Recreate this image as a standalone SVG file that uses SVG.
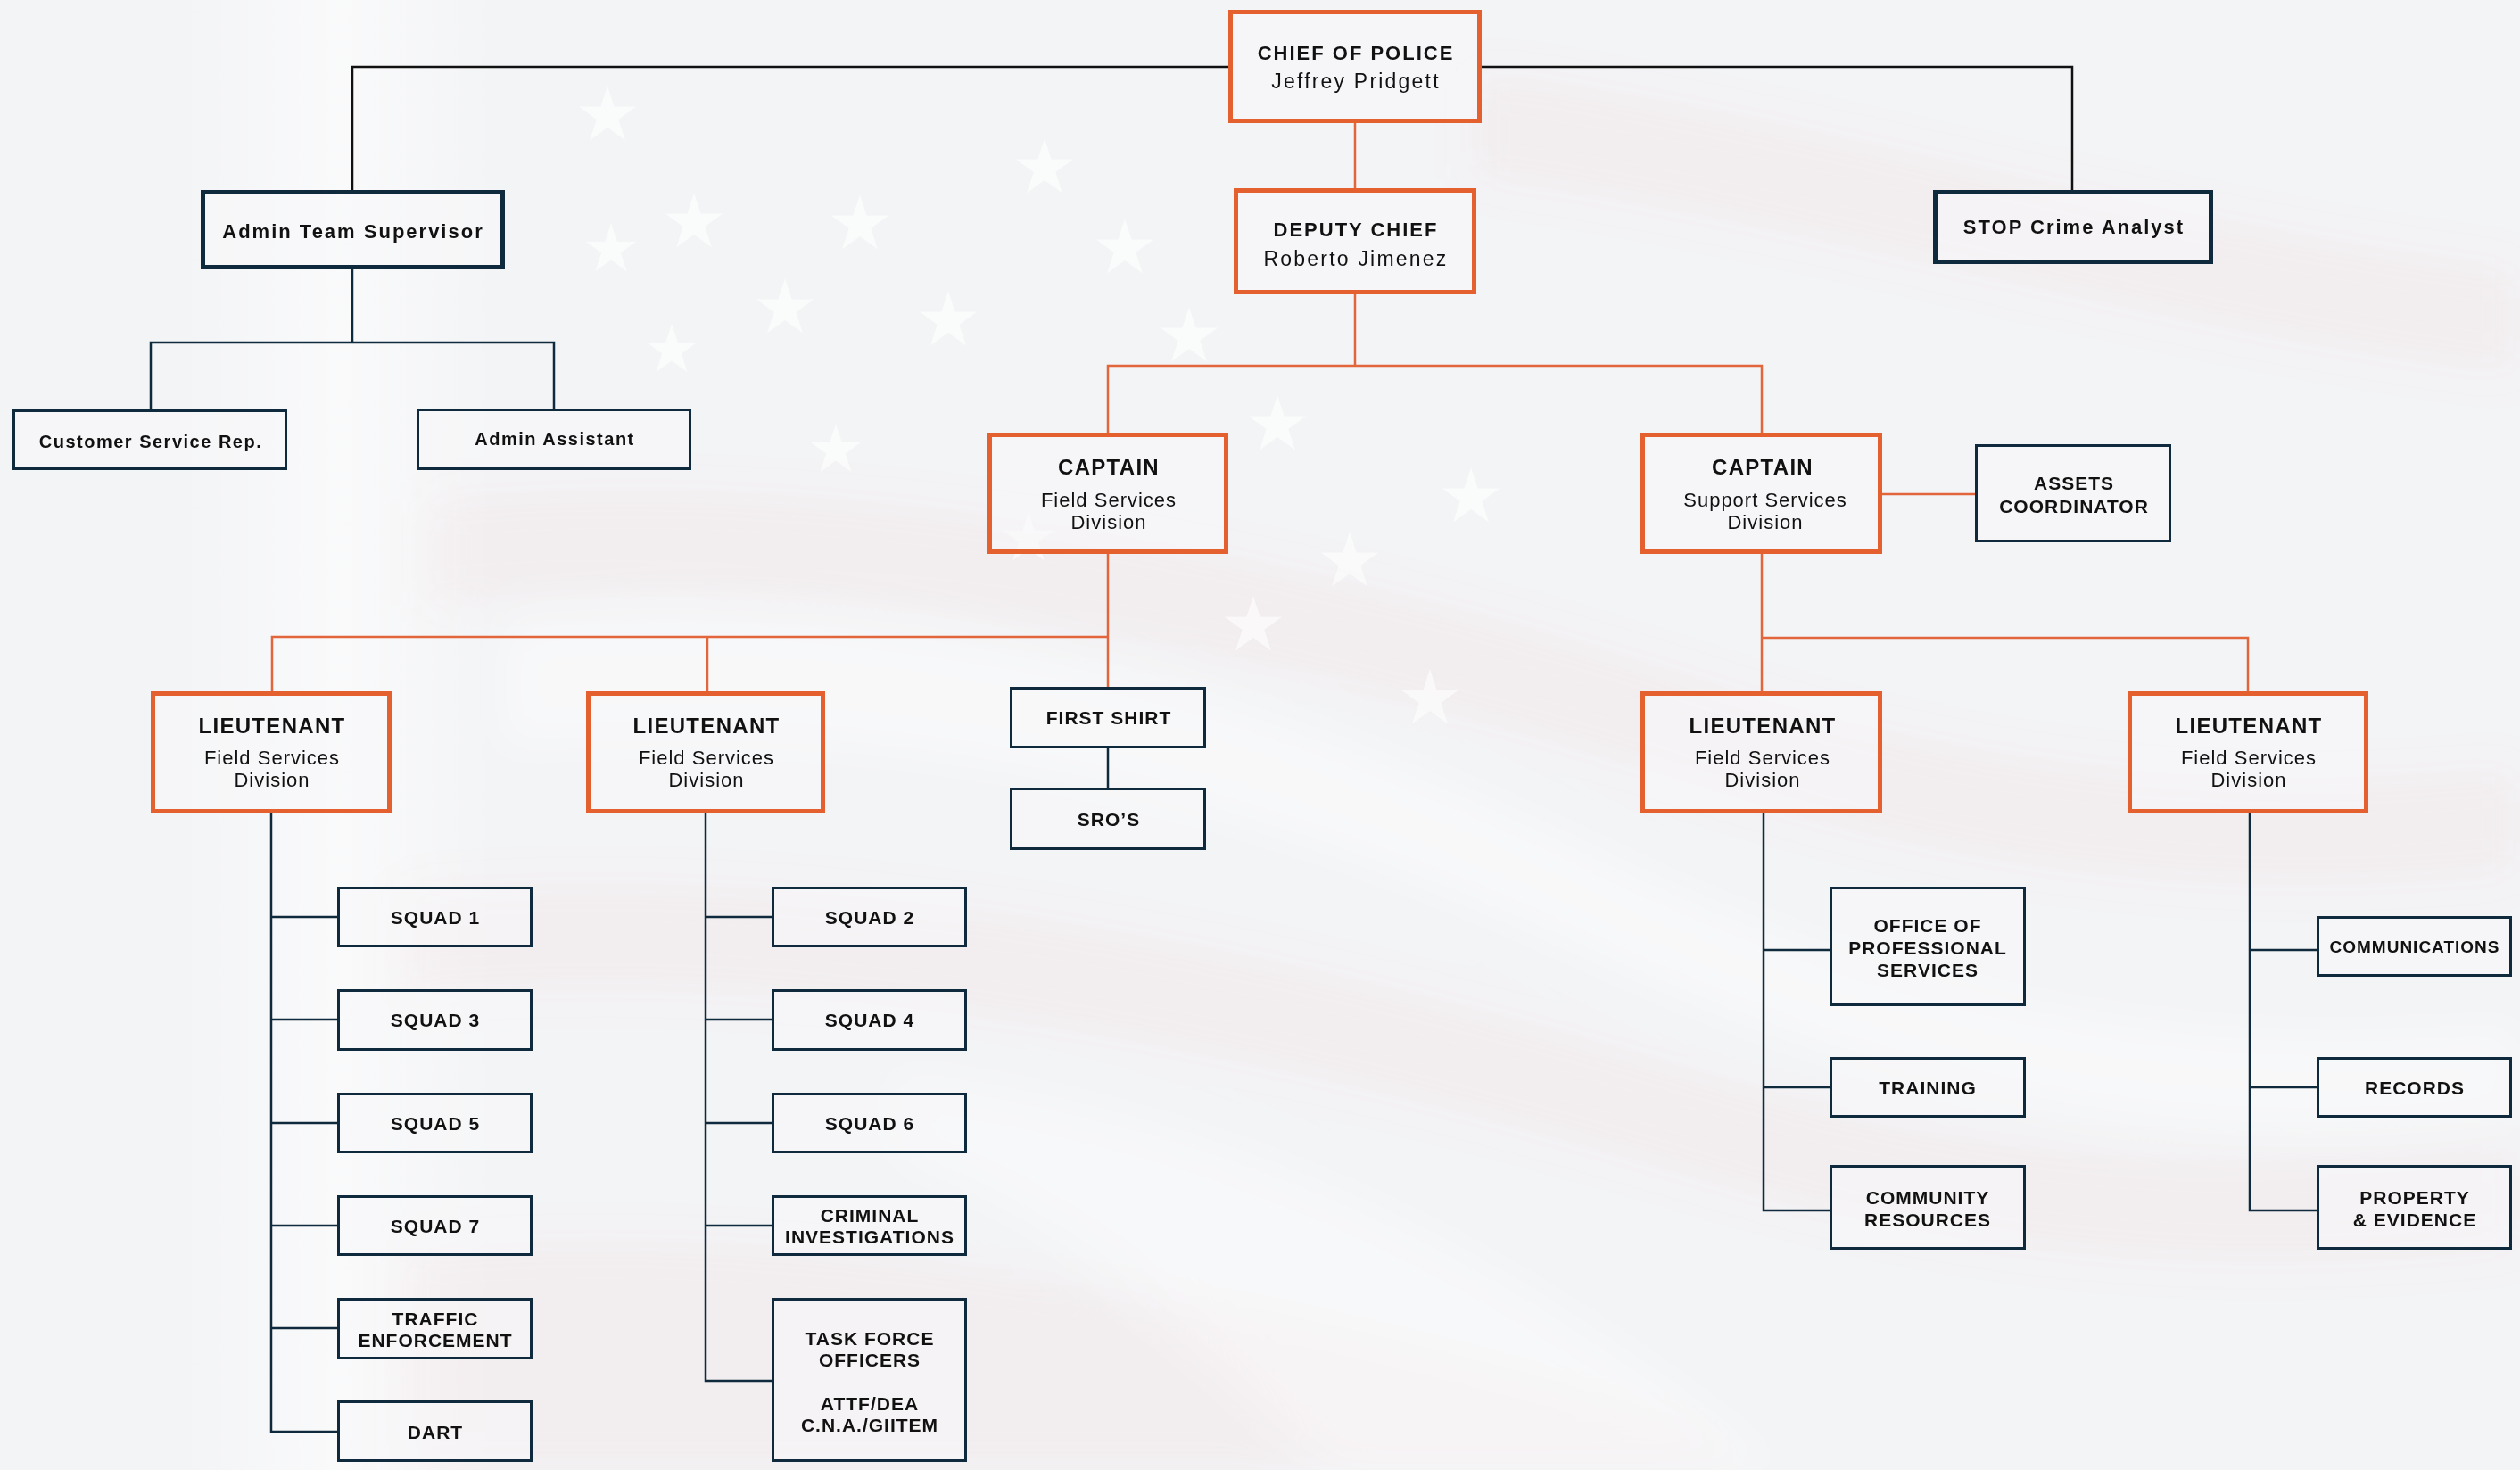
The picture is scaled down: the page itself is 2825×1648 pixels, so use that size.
<svg xmlns="http://www.w3.org/2000/svg" xmlns:xlink="http://www.w3.org/1999/xlink" width="2825" height="1648" viewBox="0 0 2825 1648">
<defs>
<style>
.ob{fill:rgba(248,248,249,0.55);stroke:#e4602e;stroke-width:5}
.nb{fill:rgba(248,248,249,0.55);stroke:#0f2a3c;stroke-width:5}
.nt{fill:rgba(248,248,249,0.55);stroke:#0f2a3c;stroke-width:3}
.oc{fill:none;stroke:#e2653b;stroke-width:2.5}
.nc{fill:none;stroke:#0f2a3c;stroke-width:2.5}
.kc{fill:none;stroke:#111111;stroke-width:2.5}
text{font-family:"Liberation Sans",Arial,sans-serif;fill:#111111;text-anchor:middle}
.h1{font-weight:700;font-size:22px;letter-spacing:2px}
.h1n{font-weight:400;font-size:23px;letter-spacing:2.2px}
.t{font-weight:700;font-size:24px;letter-spacing:1.3px}
.s{font-weight:400;font-size:22px;letter-spacing:1px}
.b{font-weight:700;font-size:21px;letter-spacing:1px}
.bs{font-weight:700;font-size:19px;letter-spacing:1px}
.a{font-weight:700;font-size:20px;letter-spacing:1.5px}
.star{fill:#ffffff;opacity:0.6}
.band{fill:#e99090;opacity:0.06}
</style>
<filter id="soft" x="-10%" y="-20%" width="120%" height="140%"><feGaussianBlur stdDeviation="25"/></filter>
<path id="st" d="M0,-1 L0.2245,-0.309 L0.951,-0.309 L0.363,0.118 L0.588,0.809 L0,0.382 L-0.588,0.809 L-0.363,0.118 L-0.951,-0.309 L-0.2245,-0.309 Z"/>
<linearGradient id="pole" x1="0" y1="0" x2="1" y2="0">
<stop offset="0" stop-color="#ffffff" stop-opacity="0"/>
<stop offset="0.5" stop-color="#ffffff" stop-opacity="0.55"/>
<stop offset="1" stop-color="#ffffff" stop-opacity="0"/>
</linearGradient>
</defs>

<g id="background">
<rect x="0" y="0" width="2825" height="1648" fill="#f3f4f6"/>
<rect x="200" y="0" width="360" height="1648" fill="url(#pole)"/>
<g filter="url(#soft)">
<path class="band" d="M1650,80 C2000,120 2400,250 2825,300 L2825,420 C2400,370 2000,240 1650,200 Z"/>
<path class="band" d="M480,560 C900,520 1400,600 1900,760 C2300,890 2600,880 2825,860 L2825,980 C2600,1000 2300,1010 1900,880 C1400,720 900,640 480,680 Z"/>
<path class="band" d="M450,1000 C900,960 1400,1050 1900,1200 C2300,1320 2600,1300 2825,1280 L2825,1400 C2600,1420 2300,1440 1900,1320 C1400,1170 900,1080 450,1120 Z"/>
<path class="band" d="M450,1400 C900,1360 1400,1450 1900,1600 L1950,1648 L450,1648 Z"/>
<path fill="#ffffff" opacity="0.4" d="M560,700 C1000,660 1400,760 1800,960 C2200,1150 2500,1180 2825,1150 L2825,1250 C2500,1290 2200,1260 1800,1080 C1400,890 1000,800 560,840 Z"/>
<path fill="#ffffff" opacity="0.35" d="M1000,1200 C1400,1250 1700,1400 2000,1648 L1500,1648 C1300,1450 1150,1350 1000,1300 Z"/>
</g>
<use href="#st" class="star" transform="translate(681,130) scale(34)"/>
<use href="#st" class="star" transform="translate(778,250) scale(34)"/>
<use href="#st" class="star" transform="translate(880,346) scale(34)"/>
<use href="#st" class="star" transform="translate(685,280) scale(30)"/>
<use href="#st" class="star" transform="translate(753,393) scale(30)"/>
<use href="#st" class="star" transform="translate(964,252) scale(34)"/>
<use href="#st" class="star" transform="translate(1063,360) scale(34)"/>
<use href="#st" class="star" transform="translate(1171,189) scale(34)"/>
<use href="#st" class="star" transform="translate(1261,279) scale(34)"/>
<use href="#st" class="star" transform="translate(1333,378) scale(34)"/>
<use href="#st" class="star" transform="translate(1432,477) scale(34)"/>
<use href="#st" class="star" transform="translate(1513,630) scale(34)"/>
<use href="#st" class="star" transform="translate(1405,702) scale(34)"/>
<use href="#st" class="star" transform="translate(1649,558) scale(34)"/>
<use href="#st" class="star" transform="translate(1603,784) scale(34)"/>
<use href="#st" class="star" transform="translate(1153,604) scale(30)"/>
<use href="#st" class="star" transform="translate(937,505) scale(30)"/>
</g>

<g id="connectors">
<path class="kc" d="M395,213 V75 H1378"/>
<path class="kc" d="M1660,75 H2323 V213"/>
<path class="nc" d="M395,302 V384"/>
<path class="nc" d="M169,459 V384 H621 V458"/>
<path class="oc" d="M1519,138 V211"/>
<path class="oc" d="M1519,330 V410"/>
<path class="oc" d="M1242,485 V410 H1975 V485"/>
<path class="oc" d="M1242,621 V770"/>
<path class="oc" d="M305,775 V714 H1242"/>
<path class="oc" d="M793,714 V775"/>
<path class="oc" d="M1975,621 V775"/>
<path class="oc" d="M1975,715 H2520 V775"/>
<path class="oc" d="M2110,554 H2214"/>
<path class="nc" d="M1242,839 V883"/>
<path class="nc" d="M304,912 V1605 H378 M304,1028 H378 M304,1143 H378 M304,1259 H378 M304,1374 H378 M304,1489 H378"/>
<path class="nc" d="M791,912 V1548 H865 M791,1028 H865 M791,1143 H865 M791,1259 H865 M791,1374 H865"/>
<path class="nc" d="M1977,910 V1357 H2051 M1977,1065 H2051 M1977,1219 H2051"/>
<path class="nc" d="M2522,910 V1357 H2597 M2522,1065 H2597 M2522,1219 H2597"/>
</g>

<g id="chief"><rect class="ob" x="1379.5" y="13.5" width="279" height="122"/>
<text class="h1" x="1520" y="67">CHIEF OF POLICE</text><text class="h1n" x="1520" y="99">Jeffrey Pridgett</text></g>
<g id="deputy"><rect class="ob" x="1385.5" y="213.5" width="267" height="114"/>
<text class="h1" x="1520" y="265">DEPUTY CHIEF</text><text class="h1n" x="1520" y="298">Roberto Jimenez</text></g>
<g id="admin-supervisor"><rect class="nb" x="227.5" y="215.5" width="336" height="84"/>
<text class="h1" x="396" y="267">Admin Team Supervisor</text></g>
<g id="stop-analyst"><rect class="nb" x="2169.5" y="215.5" width="309" height="78"/>
<text class="h1" x="2325" y="262">STOP Crime Analyst</text></g>
<g id="customer-service"><rect class="nt" x="15.5" y="460.5" width="305" height="65"/>
<text class="a" x="169" y="502">Customer Service Rep.</text></g>
<g id="admin-assistant"><rect class="nt" x="468.5" y="459.5" width="305" height="66"/>
<text class="a" x="622" y="499">Admin Assistant</text></g>

<g id="captain-field"><rect class="ob" x="1109.5" y="487.5" width="265" height="131"/>
<text class="t" x="1243" y="532">CAPTAIN</text><text class="s" x="1243" y="568">Field Services</text><text class="s" x="1243" y="593">Division</text></g>
<g id="captain-support"><rect class="ob" x="1841.5" y="487.5" width="266" height="131"/>
<text class="t" x="1976" y="532">CAPTAIN</text><text class="s" x="1979" y="568">Support Services</text><text class="s" x="1979" y="593">Division</text></g>
<g id="assets"><rect class="nt" x="2215.5" y="499.5" width="217" height="107"/>
<text class="b" x="2325" y="549">ASSETS</text><text class="b" x="2325" y="575">COORDINATOR</text></g>

<g id="lt-field-1"><rect class="ob" x="171.5" y="777.5" width="265" height="132"/>
<text class="t" x="305" y="822">LIEUTENANT</text><text class="s" x="305" y="857">Field Services</text><text class="s" x="305" y="882">Division</text></g>
<g id="lt-field-2"><rect class="ob" x="659.5" y="777.5" width="263" height="132"/>
<text class="t" x="792" y="822">LIEUTENANT</text><text class="s" x="792" y="857">Field Services</text><text class="s" x="792" y="882">Division</text></g>
<g id="lt-support-1"><rect class="ob" x="1841.5" y="777.5" width="266" height="132"/>
<text class="t" x="1976" y="822">LIEUTENANT</text><text class="s" x="1976" y="857">Field Services</text><text class="s" x="1976" y="882">Division</text></g>
<g id="lt-support-2"><rect class="ob" x="2387.5" y="777.5" width="265" height="132"/>
<text class="t" x="2521" y="822">LIEUTENANT</text><text class="s" x="2521" y="857">Field Services</text><text class="s" x="2521" y="882">Division</text></g>

<g id="first-shirt"><rect class="nt" x="1133.5" y="771.5" width="217" height="66"/>
<text class="b" x="1243" y="812">FIRST SHIRT</text></g>
<g id="sros"><rect class="nt" x="1133.5" y="884.5" width="217" height="67"/>
<text class="b" x="1243" y="926">SRO’S</text></g>

<g id="squad1"><rect class="nt" x="379.5" y="995.5" width="216" height="65"/><text class="b" x="488" y="1036">SQUAD 1</text></g>
<g id="squad3"><rect class="nt" x="379.5" y="1110.5" width="216" height="66"/><text class="b" x="488" y="1151">SQUAD 3</text></g>
<g id="squad5"><rect class="nt" x="379.5" y="1226.5" width="216" height="65"/><text class="b" x="488" y="1267">SQUAD 5</text></g>
<g id="squad7"><rect class="nt" x="379.5" y="1341.5" width="216" height="65"/><text class="b" x="488" y="1382">SQUAD 7</text></g>
<g id="traffic"><rect class="nt" x="379.5" y="1456.5" width="216" height="66"/><text class="b" x="488" y="1486">TRAFFIC</text><text class="b" x="488" y="1510">ENFORCEMENT</text></g>
<g id="dart"><rect class="nt" x="379.5" y="1571.5" width="216" height="66"/><text class="b" x="488" y="1613">DART</text></g>

<g id="squad2"><rect class="nt" x="866.5" y="995.5" width="216" height="65"/><text class="b" x="975" y="1036">SQUAD 2</text></g>
<g id="squad4"><rect class="nt" x="866.5" y="1110.5" width="216" height="66"/><text class="b" x="975" y="1151">SQUAD 4</text></g>
<g id="squad6"><rect class="nt" x="866.5" y="1226.5" width="216" height="65"/><text class="b" x="975" y="1267">SQUAD 6</text></g>
<g id="criminal"><rect class="nt" x="866.5" y="1341.5" width="216" height="65"/><text class="b" x="975" y="1370">CRIMINAL</text><text class="b" x="975" y="1394">INVESTIGATIONS</text></g>
<g id="task-force"><rect class="nt" x="866.5" y="1456.5" width="216" height="181"/><text class="b" x="975" y="1508">TASK FORCE</text><text class="b" x="975" y="1532">OFFICERS</text><text class="b" x="975" y="1581">ATTF/DEA</text><text class="b" x="975" y="1605">C.N.A./GIITEM</text></g>

<g id="ops"><rect class="nt" x="2052.5" y="995.5" width="217" height="131"/><text class="b" x="2161" y="1045">OFFICE OF</text><text class="b" x="2161" y="1070">PROFESSIONAL</text><text class="b" x="2161" y="1095">SERVICES</text></g>
<g id="training"><rect class="nt" x="2052.5" y="1186.5" width="217" height="65"/><text class="b" x="2161" y="1227">TRAINING</text></g>
<g id="community"><rect class="nt" x="2052.5" y="1307.5" width="217" height="92"/><text class="b" x="2161" y="1350">COMMUNITY</text><text class="b" x="2161" y="1375">RESOURCES</text></g>

<g id="communications"><rect class="nt" x="2598.5" y="1028.5" width="216" height="65"/><text class="bs" x="2707" y="1068">COMMUNICATIONS</text></g>
<g id="records"><rect class="nt" x="2598.5" y="1186.5" width="216" height="65"/><text class="b" x="2707" y="1227">RECORDS</text></g>
<g id="property"><rect class="nt" x="2598.5" y="1307.5" width="216" height="92"/><text class="b" x="2707" y="1350">PROPERTY</text><text class="b" x="2707" y="1375">&amp; EVIDENCE</text></g>
</svg>
